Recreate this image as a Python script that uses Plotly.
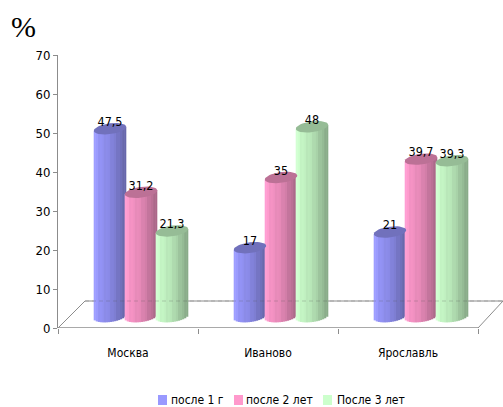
import math
import plotly.graph_objects as go

categories = ["Москва", "Иваново", "Ярославль"]
series_names = ["после 1 г", "после 2 лет", "После 3 лет"]
after_1 = [47.5, 17, 21]
after_2 = [31.2, 35, 39.7]
after_3 = [21.3, 48, 39.3]
y_ticks = [0, 10, 20, 30, 40, 50, 60, 70]
series_values = [after_1, after_2, after_3]

# pseudo-3D geometry and style
W, H = 503, 407
ML, MR, MT, MB = 58, 0, 55, 79
PX_X = 140.0
PX_Y = (H - MT - MB) / 70.0
SHIFT_X = 13 / PX_X
STEP = 31 / PX_X
TOP_LIFT = 3.6
BASE_LIFT = 2.9
RX, RY, TILT = 16.2, 5.4, 0.12
N = 16
BODY = [(153, 153, 255), (255, 153, 204), (204, 255, 204)]
FONT = "DejaVu Sans Condensed"
AXIS = "#8c8c8c"
LEGEND_SWATCH_PX = [158, 234, 323]
LEGEND_TEXT_PX = [170, 245, 336]
LEGEND_Y_PX = 400


def shade(c, u):
    if u < 0.18:
        f = 1.05 - 0.08 * (u / 0.18)
    elif u < 0.5:
        f = 0.97 - 0.07 * ((u - 0.18) / 0.32)
    else:
        f = 0.90 - 0.24 * ((u - 0.5) / 0.5)
    if int(u * N) % 3 == 2:
        f -= 0.025
    return "rgb(%d,%d,%d)" % tuple(min(255, int(v * f)) for v in c)


def paper_x(px):
    return (px - ML) / (W - ML)


def paper_y(py):
    return (H - MB - py) / (H - MT - MB)


fig = go.Figure()
for s, (vals, col, name) in enumerate(zip(series_values, BODY, series_names)):
    xs, ws, bases, ys, cols = [], [], [], [], []
    for c, v in enumerate(vals):
        cx = c + SHIFT_X + (s - 1) * STEP
        for i in range(N):
            u = (i + 0.5) / N
            t = 2 * u - 1
            xs.append(cx + t * RX / PX_X)
            ws.append(2 * RX / N / PX_X + 0.0015)
            line = TILT * RX * t
            base = BASE_LIFT + (line - RY * math.sqrt(1 - t * t)) / PX_Y
            top = v + TOP_LIFT + line / PX_Y
            bases.append(base)
            ys.append(top - base)
            cols.append(shade(col, u))
    fig.add_trace(go.Bar(x=xs, y=ys, base=bases, width=ws, name=name, marker=dict(color=cols, line_width=0),
                         showlegend=False, hoverinfo="skip"))
fig.update_layout(barmode="overlay")

# cylinder tops
for s, (vals, col) in enumerate(zip(series_values, BODY)):
    dark = "rgb(%d,%d,%d)" % tuple(int(v * 0.74) for v in col)
    for c, v in enumerate(vals):
        cx = c + SHIFT_X + (s - 1) * STEP
        px, py = [], []
        for k in range(41):
            a = 2 * math.pi * k / 40
            ex = RX * math.cos(a)
            ey = RY * math.sin(a) + TILT * ex
            px.append(cx + ex / PX_X)
            py.append(v + TOP_LIFT + ey / PX_Y)
        fig.add_trace(go.Scatter(x=px, y=py, mode="lines", fill="toself", fillcolor=dark,
                                 line=dict(width=0, color=dark), showlegend=False, hoverinfo="skip"))

# data labels
for s, vals in enumerate(series_values):
    fig.add_trace(go.Scatter(
        x=[c + SHIFT_X + (s - 1) * STEP for c in range(len(vals))],
        y=[v + TOP_LIFT + 1.5 for v in vals],
        text=[str(v).replace(".", ",") for v in vals],
        mode="text", textposition="middle center",
        textfont=dict(family=FONT, size=12.5, color="black"),
        showlegend=False, hoverinfo="skip"))

DX = 27 / PX_X
DY = 27 / PX_Y
back = dict(color=AXIS, width=1)
shapes = [
    dict(type="line", x0=-0.5, x1=2.5, y0=0, y1=0, xref="x", yref="y", line=dict(color=AXIS, width=1.5)),
    dict(type="line", x0=-0.5, x1=-0.5 + DX, y0=0, y1=DY, xref="x", yref="y", line=back),
    dict(type="line", x0=2.5, x1=2.5 + 25 / PX_X, y0=0, y1=DY, xref="x", yref="y", line=back),
    dict(type="line", x0=-0.5 + DX, x1=2.5 + 25 / PX_X, y0=DY, y1=DY, xref="x", yref="y", line=back, layer="below"),
    dict(type="line", x0=-0.5 + DX, x1=2.5 + 25 / PX_X, y0=DY, y1=DY, xref="x", yref="y",
         line=dict(color="rgba(90,90,90,0.28)", width=1, dash="4px,3px"), layer="above"),
]
annotations = [dict(text="%", xref="paper", yref="paper", x=paper_x(23), y=paper_y(27),
                    showarrow=False, xanchor="center", yanchor="middle",
                    font=dict(family="Liberation Serif", size=30, color="black"))]
# legend row
for name, col, sx, tx in zip(series_names, BODY, LEGEND_SWATCH_PX, LEGEND_TEXT_PX):
    shapes.append(dict(type="rect", xref="paper", yref="paper",
                       x0=paper_x(sx), x1=paper_x(sx + 9), y0=paper_y(LEGEND_Y_PX + 5), y1=paper_y(LEGEND_Y_PX - 5),
                       fillcolor="rgb(%d,%d,%d)" % col, line_width=0))
    annotations.append(dict(text=name, xref="paper", yref="paper", x=paper_x(tx), y=paper_y(LEGEND_Y_PX),
                            showarrow=False, xanchor="left", yanchor="middle", xshift=-1,
                            font=dict(family=FONT, size=12, color="black")))

fig.update_layout(
    width=W, height=H, margin=dict(l=ML, r=MR, t=MT, b=MB, pad=0, autoexpand=False),
    paper_bgcolor="white", plot_bgcolor="white", shapes=shapes, annotations=annotations, showlegend=False,
    font=dict(family=FONT, size=12, color="black"),
    xaxis=dict(range=[-0.5, -0.5 + (W - ML) / PX_X], tickvals=[0, 1, 2], ticktext=categories, ticks="",
               ticklabelstandoff=16, showgrid=False, zeroline=False, showline=False,
               tickfont=dict(family=FONT, size=12),
               minor=dict(tickvals=[-0.5, 0.5, 1.5, 2.5], ticks="outside", ticklen=5, tickcolor=AXIS, showgrid=False)),
    yaxis=dict(range=[0, 70], tickvals=y_ticks, ticks="outside", ticklen=4, tickcolor=AXIS, showgrid=False,
               zeroline=False, showline=True, linecolor=AXIS, linewidth=1,
               tickfont=dict(family=FONT, size=13)),
)
fig.write_html("out.html", config=dict(displayModeBar=False),
               post_script="document.body.style.margin='0';document.body.style.overflow='hidden';")
